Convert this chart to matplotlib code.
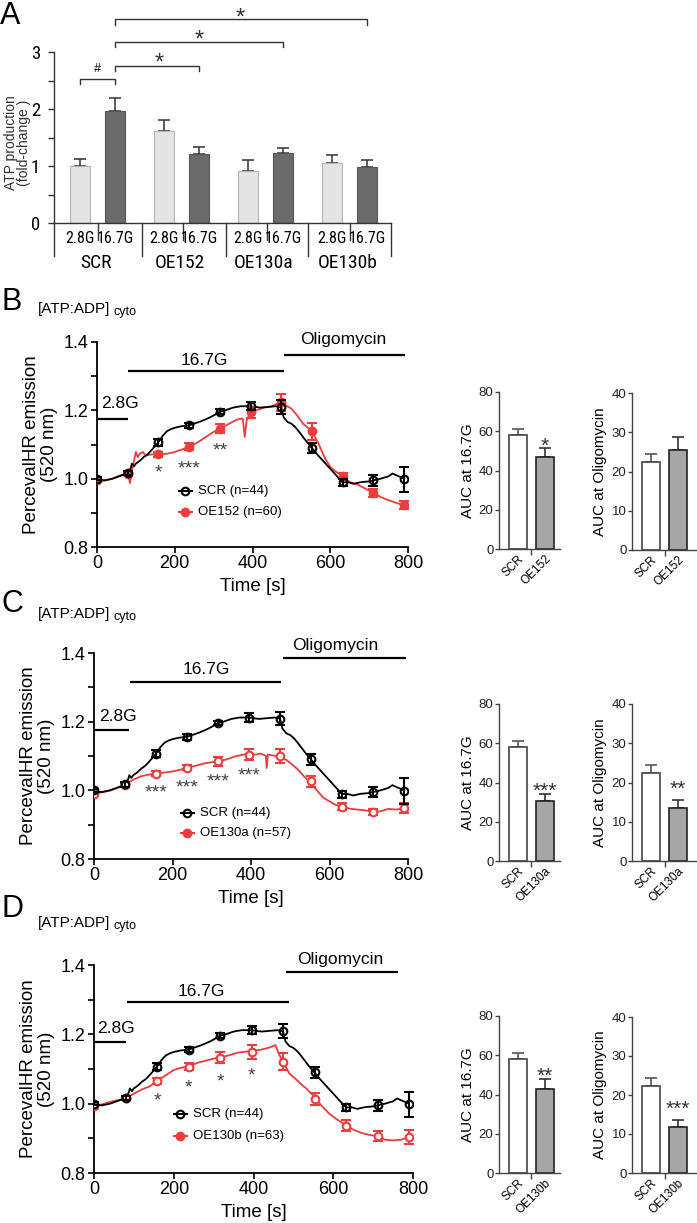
import matplotlib
matplotlib.use('Agg')
import matplotlib.pyplot as plt
from matplotlib import font_manager as fm

# ---------------- DATA ----------------
groups = ['SCR', 'OE152', 'OE130a', 'OE130b']
conds = ['2.8G', '16.7G']
atp_28 = [1.00, 1.62, 0.91, 1.06]
atp_28_err = [0.13, 0.18, 0.19, 0.13]
atp_167 = [1.97, 1.21, 1.22, 0.98]
atp_167_err = [0.22, 0.12, 0.10, 0.12]

t_mark = [0, 79, 158, 237, 316, 395, 474, 553, 632, 711, 790]
scr_m = [1.0, 1.017, 1.107, 1.156, 1.196, 1.212, 1.209, 1.09, 0.989, 0.995, 0.998]
scr_e = [0.005, 0.006, 0.01, 0.008, 0.007, 0.012, 0.02, 0.015, 0.01, 0.015, 0.037]
oe152_m = [0.995, 1.015, 1.071, 1.093, 1.146, 1.195, 1.224, 1.139, 1.008, 0.958, 0.922]
oe152_e = [0.004, 0.005, 0.008, 0.01, 0.013, 0.016, 0.025, 0.025, 0.01, 0.012, 0.012]
oe130a_m = [0.99, 1.015, 1.049, 1.066, 1.084, 1.104, 1.101, 1.026, 0.952, 0.937, 0.948]
oe130a_e = [0.004, 0.005, 0.006, 0.008, 0.012, 0.015, 0.02, 0.016, 0.01, 0.01, 0.015]
oe130b_m = [0.993, 1.015, 1.066, 1.106, 1.133, 1.150, 1.121, 1.013, 0.937, 0.906, 0.904]
oe130b_e = [0.004, 0.005, 0.008, 0.01, 0.015, 0.02, 0.025, 0.018, 0.015, 0.015, 0.02]

scr_t = [0, 20, 40, 60, 79, 85, 90, 95, 100, 110, 120, 130, 140, 150, 158, 170, 180, 190, 200, 215,
         237, 250, 270, 290, 300, 316, 330, 350, 370, 395, 420, 440, 460, 474, 480, 490, 500, 510, 520, 530,
         540, 553, 565, 580, 600, 615, 632, 645, 660, 680, 700, 711, 730, 750, 760, 770, 790]
scr_v = [0.997, 0.995, 1.0, 1.008, 1.017, 1.025, 1.044, 1.036, 1.044, 1.052, 1.063, 1.071, 1.083, 1.096,
         1.107, 1.127, 1.139, 1.145, 1.149, 1.153, 1.156, 1.161, 1.169, 1.179, 1.185, 1.196, 1.2, 1.208,
         1.212, 1.212, 1.208, 1.21, 1.212, 1.209, 1.18, 1.166, 1.161, 1.151, 1.137, 1.122, 1.107, 1.09,
         1.073, 1.054, 1.029, 1.01, 0.989, 0.99, 0.985, 0.99, 0.992, 0.995, 1.0, 1.007, 1.015, 1.01, 1.0]

oe152_t = [0, 20, 40, 60, 79, 85, 90, 100, 105, 110, 118, 125, 140, 158, 180, 200, 220, 237, 260, 280,
           300, 316, 340, 360, 375, 380, 385, 395, 410, 430, 450, 465, 474, 485, 500, 515, 530, 553, 570,
           585, 600, 615, 632, 650, 670, 690, 711, 730, 750, 770, 790]
oe152_v = [0.99, 0.995, 1.0, 1.01, 1.015, 0.987, 1.025, 1.078, 1.063, 1.073, 1.078, 1.068, 1.071, 1.071,
           1.073, 1.078, 1.086, 1.093, 1.107, 1.122, 1.137, 1.146, 1.161, 1.173, 1.176, 1.122, 1.171,
           1.195, 1.2, 1.208, 1.212, 1.22, 1.224, 1.215, 1.205, 1.185, 1.161, 1.139, 1.102, 1.063, 1.034,
           1.02, 1.008, 0.99, 0.983, 0.971, 0.958, 0.946, 0.937, 0.929, 0.922]

oe130a_t = [0, 20, 40, 60, 79, 100, 120, 140, 158, 180, 200, 220, 237, 260, 280, 300, 316, 340, 360, 380,
            395, 410, 425, 438, 440, 443, 460, 474, 490, 505, 520, 535, 553, 570, 585, 600, 615, 632, 650,
            670, 690, 711, 730, 750, 770, 790]
oe130a_v = [0.992, 0.994, 0.999, 1.007, 1.015, 1.031, 1.041, 1.046, 1.049, 1.052, 1.055, 1.06, 1.066,
            1.072, 1.078, 1.082, 1.084, 1.091, 1.099, 1.104, 1.107, 1.104, 1.107, 1.1, 1.065, 1.104, 1.101,
            1.094, 1.089, 1.075, 1.06, 1.041, 1.021, 0.997, 0.978, 0.968, 0.958, 0.952, 0.947, 0.944, 0.942,
            0.937, 0.939, 0.946, 0.944, 0.948]

oe130b_t = [0, 20, 40, 60, 79, 100, 120, 140, 158, 180, 200, 220, 237, 260, 280, 300, 316, 340, 360, 380,
            395, 420, 440, 455, 465, 474, 490, 505, 520, 535, 553, 570, 590, 610, 632, 650, 670, 690, 711,
            730, 750, 770, 790]
oe130b_v = [0.993, 0.998, 1.005, 1.01, 1.015, 1.029, 1.041, 1.05, 1.066, 1.082, 1.097, 1.104, 1.108,
            1.118, 1.124, 1.13, 1.133, 1.14, 1.147, 1.15, 1.152, 1.156, 1.162, 1.169, 1.14, 1.121, 1.087,
            1.072, 1.056, 1.041, 1.019, 0.995, 0.971, 0.954, 0.937, 0.925, 0.916, 0.91, 0.906, 0.896, 0.894,
            0.896, 0.904]

auc_labels_oe = ['OE152', 'OE130a', 'OE130b']
auc167_scr, auc167_scr_err = 57.9, 3.4
auc167_oe = [47.0, 30.5, 42.8]
auc167_oe_err = [4.4, 3.6, 5.0]
aucolig_scr, aucolig_scr_err = 22.3, 2.1
aucolig_oe = [25.6, 13.5, 11.9]
aucolig_oe_err = [3.1, 2.0, 1.7]
auc167_sig = ['*', '***', '**']
aucolig_sig = ['', '**', '***']
auc167_sig_y = [55.5, 38.7, 52.4]
aucolig_sig_y = [0, 19.8, 17.8]
line_sig = [['*', '***', '**', ''], ['***', '***', '***', '***'], ['*', '*', '*', '*']]
n_oe = [60, 57, 63]

# ---------------- STYLE ----------------
W, H = 697, 1223
plt.rcParams['font.family'] = ['Liberation Sans', 'DejaVu Sans']


def has_font(name):
    try:
        fm.findfont(fm.FontProperties(family=name), fallback_to_default=False)
        return True
    except Exception:
        return False


NARROW = None
for cand in ['Liberation Sans Narrow', 'Roboto Condensed', 'DejaVu Sans Condensed', 'Open Sans Condensed']:
    if has_font(cand):
        NARROW = cand
        break
if NARROW is None:
    NARROW = 'Liberation Sans'
    cond_fs, grp_fs, tick_fs = 10, 12.5, 12.5
else:
    cond_fs, grp_fs, tick_fs = 11.5, 14, 13.5

RED = '#ee3b3b'

fig = plt.figure(figsize=(W / 100, H / 100), dpi=100)


def px_axes(l, t, r, b):
    return fig.add_axes([l / W, 1 - b / H, (r - l) / W, (b - t) / H])


def ftext(x, y, s, **kw):
    fig.text(x / W, 1 - y / H, s, **kw)


def star(ax, x, y, s, fs, color='#333333'):
    # place the visual centre of the asterisk glyph at (x, y)
    ax.annotate(s, (x, y), xytext=(0, -0.56 * fs), textcoords='offset points', ha='center',
                va='baseline', fontsize=fs, color=color, annotation_clip=False)


# ---------------- PANEL A ----------------
axA = px_axes(54, 52, 391, 223)
pos28 = [g * 2.4 for g in range(4)]
pos167 = [g * 2.4 + 1 for g in range(4)]
axA.bar(pos28, atp_28, width=0.56, color='#e4e4e4', edgecolor='#b5b5b5', lw=0.8, zorder=2)
axA.bar(pos167, atp_167, width=0.56, color='#6b6b6b', edgecolor='#555555', lw=0.8, zorder=2)
axA.errorbar(pos28, atp_28, yerr=[[0] * 4, atp_28_err], fmt='none', ecolor='#333333', elinewidth=1.1,
             capsize=4.5, capthick=1.1, zorder=1)
axA.errorbar(pos167, atp_167, yerr=[[0] * 4, atp_167_err], fmt='none', ecolor='#333333', elinewidth=1.1,
             capsize=4.5, capthick=1.1, zorder=1)
axA.set_xlim(-0.743, 8.886)
axA.set_ylim(0, 3)
for s in ['top', 'right']:
    axA.spines[s].set_visible(False)
for s in ['left', 'bottom']:
    axA.spines[s].set_color('#333333')
    axA.spines[s].set_linewidth(1.0)
axA.set_yticks([0, 1, 2, 3])
axA.set_yticks([0.5, 1.5, 2.5], minor=True)
axA.set_xticks([])
axA.tick_params(axis='y', which='both', length=4, width=1, color='#333333', labelsize=tick_fs, pad=6)
for lab in axA.get_yticklabels():
    lab.set_family(NARROW)
axA.set_ylabel('ATP production\n(fold-change )', fontsize=10, color='#333333', linespacing=0.9)
axA.yaxis.set_label_coords(-0.068, 0.47)

for xs in [-0.743, 1.77, 4.17, 6.51, 8.886]:
    axA.plot([xs, xs], [0, -0.58], color='#333333', lw=1.0, clip_on=False)
for xs in [0.51, 2.94, 5.34, 7.71]:
    axA.plot([xs, xs], [0, -0.30], color='#333333', lw=1.0, clip_on=False)
for g in range(4):
    axA.text(pos28[g], -0.28, conds[0], ha='center', va='center', fontsize=cond_fs, family=NARROW)
    axA.text(pos167[g], -0.28, conds[1], ha='center', va='center', fontsize=cond_fs, family=NARROW)
    axA.text(g * 2.4 + 0.45, -0.70, groups[g], ha='center', va='center', fontsize=grp_fs, family=NARROW)


def bracket(ax, x0, x1, ytop, ybot):
    ax.plot([x0, x0, x1, x1], [ybot, ytop, ytop, ybot], color='#333333', lw=1.0, clip_on=False)


bracket(axA, pos28[0], pos167[0], 2.53, 2.44)
axA.text(0.5, 2.70, '#', ha='center', va='center', fontsize=9)
bracket(axA, pos167[0], pos167[1], 2.75, 2.66)
star(axA, 2.25, 2.92, '*', 17)
bracket(axA, pos167[0], pos167[2], 3.18, 3.09)
star(axA, 3.42, 3.33, '*', 17)
bracket(axA, pos167[0], pos167[3], 3.58, 3.47)
star(axA, 4.59, 3.72, '*', 17)

ftext(10, 16, 'A', fontsize=22, ha='center', va='center')

# ---------------- PANELS B-D ----------------
line_axes = [(97, 342, 408, 547), (94, 653, 408, 859), (94, 965, 413, 1173)]
auc_axes16 = [(499, 392, 560, 549), (499, 704, 560, 861), (499, 1016, 560, 1173)]
auc_axesol = [(632, 393, 697, 550), (632, 704, 697, 861), (632, 1017, 697, 1173)]
panel_letters = ['B', 'C', 'D']
letter_y = [302, 604, 909]
title_y = [309, 614, 923]
oe_traces = [(oe152_t, oe152_v), (oe130a_t, oe130a_v), (oe130b_t, oe130b_v)]
oe_marks = [(oe152_m, oe152_e), (oe130a_m, oe130a_e), (oe130b_m, oe130b_e)]
oe_face = [RED, 'white', 'white']
cond_lines = [
    [(0, 81, 1.176), (81, 482, 1.314), (482, 793, 1.363)],
    [(0, 89, 1.177), (91, 477, 1.316), (481, 794, 1.385)],
    [(0, 79, 1.178), (84, 488, 1.294), (481, 762, 1.381)],
]
cond_text = [
    [(60, 1.22), (276, 1.346), (634, 1.407)],
    [(61, 1.216), (286, 1.351), (615, 1.421)],
    [(56, 1.217), (268, 1.325), (617, 1.416)],
]
sig_y = [[1.034, 1.047, 1.10, 0], [1.012, 1.026, 1.044, 1.06], [1.027, 1.063, 1.082, 1.097]]
legend_pos = [(185, 491, 512), (187, 813, 833), (180, 1114, 1136)]

for i in range(3):
    l, t, r, b = line_axes[i]
    ax = px_axes(l, t, r, b)
    ax.plot(scr_t, scr_v, color='black', lw=1.3, zorder=2)
    ax.plot(oe_traces[i][0], oe_traces[i][1], color=RED, lw=1.3, zorder=1)
    ax.errorbar(t_mark, oe_marks[i][0], yerr=oe_marks[i][1], fmt='o', ms=5.5, mfc=oe_face[i], mec=RED,
                mew=1.5, ecolor=RED, elinewidth=1.5, capsize=3.5, capthick=1.5, zorder=3)
    ax.errorbar(t_mark, scr_m, yerr=scr_e, fmt='o', ms=5.5, mfc='none', mec='black', mew=1.5,
                ecolor='black', elinewidth=1.5, capsize=3.5, capthick=1.5, zorder=4)
    ax.set_xlim(0, 800)
    ax.set_ylim(0.8, 1.4)
    for s in ['top', 'right']:
        ax.spines[s].set_visible(False)
    for s in ['left', 'bottom']:
        ax.spines[s].set_linewidth(1.3)
    ax.set_xticks([0, 200, 400, 600, 800])
    ax.set_yticks([0.8, 1.0, 1.2, 1.4])
    ax.set_yticks([0.9, 1.1, 1.3], minor=True)
    ax.set_yticklabels(['0.8', '1.0', '1.2', '1.4'])
    ax.tick_params(which='both', length=4, width=1.2, labelsize=13, pad=2)
    ax.set_xlabel('Time [s]', fontsize=13.5, labelpad=4)
    ax.set_ylabel('PercevalHR emission\n(520 nm)', fontsize=13.5, linespacing=1.1, labelpad=4)
    labs = ['2.8G', '16.7G', 'Oligomycin']
    for (x0, x1, yy) in cond_lines[i]:
        ax.plot([x0, x1], [yy, yy], color='black', lw=1.6, clip_on=False, solid_capstyle='butt')
    for j, (xx, yy) in enumerate(cond_text[i]):
        ax.text(xx, yy, labs[j], ha='center', va='center', fontsize=12.5, clip_on=False)
    for j in range(4):
        if line_sig[i][j]:
            star(ax, t_mark[j + 2], sig_y[i][j], line_sig[i][j], 14, color='#444444')
    mx, y1, y2 = legend_pos[i]
    for yy, col, face, lab in [(y1, 'black', 'none', 'SCR (n=44)'),
                               (y2, RED, RED, f'{auc_labels_oe[i]} (n={n_oe[i]})')]:
        fig.add_artist(plt.Line2D([(mx - 6) / W, (mx + 7) / W], [1 - yy / H, 1 - yy / H], color=col, lw=1.5))
        fig.add_artist(plt.Line2D([mx / W], [1 - yy / H], marker='o', ms=5.5, mfc=face, mec=col, mew=1.5))
        ftext(mx + 13, yy, lab, fontsize=9.5, ha='left', va='center')

    ftext(12, letter_y[i], panel_letters[i], fontsize=22, ha='center', va='center')
    ftext(38, title_y[i], '[ATP:ADP]', fontsize=11, ha='left', va='center')
    ftext(114, title_y[i] + 3, 'cyto', fontsize=9, ha='left', va='center')

    for (box, scr_val, scr_err, oe_val, oe_err, sig, sig_yy, ymax, ylab, right) in [
        (auc_axes16[i], auc167_scr, auc167_scr_err, auc167_oe[i], auc167_oe_err[i], auc167_sig[i],
         auc167_sig_y[i], 80, 'AUC at 16.7G', 1.56),
        (auc_axesol[i], aucolig_scr, aucolig_scr_err, aucolig_oe[i], aucolig_oe_err[i], aucolig_sig[i],
         aucolig_sig_y[i], 40, 'AUC at Oligomycin', 1.70)]:
        a = px_axes(*box)
        a.bar([0, 1], [scr_val, oe_val], width=0.67, color=['white', '#a6a6a6'],
              edgecolor=['#444444', '#222222'], lw=1.2, zorder=2)
        a.errorbar([0], [scr_val], yerr=[[0], [scr_err]], fmt='none', ecolor='#555555', elinewidth=1.2,
                   capsize=4, capthick=1.2, zorder=1)
        a.errorbar([1], [oe_val], yerr=[[0], [oe_err]], fmt='none', ecolor='#333333', elinewidth=1.2,
                   capsize=4, capthick=1.2, zorder=1)
        a.set_xlim(-0.70, right)
        a.set_ylim(0, ymax)
        for s in ['top', 'right']:
            a.spines[s].set_visible(False)
        for s in ['left', 'bottom']:
            a.spines[s].set_color('#444444')
            a.spines[s].set_linewidth(1.0)
        yt = [0, ymax // 4, ymax // 2, 3 * ymax // 4, ymax]
        a.set_yticks(yt)
        a.set_yticklabels([str(v) for v in yt])
        a.set_xticks([0, 1])
        a.set_xticklabels(['SCR', auc_labels_oe[i]], rotation=45, ha='right', rotation_mode='anchor',
                          fontsize=8.5)
        a.set_xticks([0.5], minor=True)
        a.tick_params(axis='x', which='major', length=0, pad=3)
        a.tick_params(axis='x', which='minor', length=4, width=1, color='#444444')
        a.tick_params(axis='y', length=3, width=1, color='#444444', labelsize=9.5, pad=1, labelcolor='#222222')
        a.set_ylabel(ylab, fontsize=11, labelpad=3)
        if sig:
            star(a, 1, sig_yy, sig, 15)

fig.savefig('out.png', dpi=100)
